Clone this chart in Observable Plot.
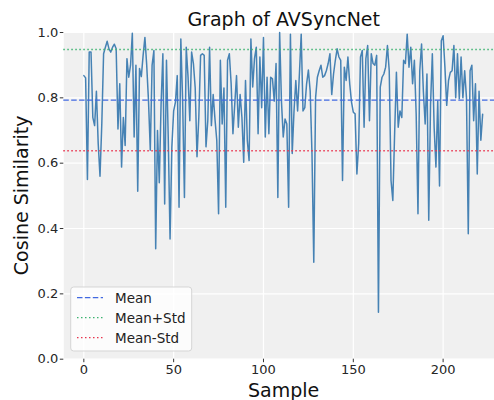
<!DOCTYPE html>
<html><head><meta charset="utf-8">
<script src="https://cdn.jsdelivr.net/npm/d3@7"></script>
<script src="https://cdn.jsdelivr.net/npm/@observablehq/plot@0.6"></script>
<style>
body{margin:0;background:#fff;}
#wrap{position:relative;width:494px;height:400px;overflow:hidden;font-family:"DejaVu Sans",sans-serif;}
#wrap svg{position:absolute;left:0;top:0;}
</style></head><body><div id="wrap"></div><script>
const similarity = [
0.868,0.861,0.55,0.94,0.94,0.74,0.715,0.82,0.66,0.56,
0.72,0.935,0.955,0.973,0.95,0.94,0.955,0.964,0.95,0.705,
0.843,0.588,0.74,0.654,0.92,0.863,0.9,0.998,0.68,0.9,
0.514,0.89,0.865,0.93,0.985,0.9,0.79,0.64,0.9,0.945,
0.338,0.7,0.54,0.78,0.935,0.475,0.915,0.675,0.368,0.65,
0.76,0.787,0.868,0.465,0.98,0.79,0.495,0.955,0.865,0.73,
0.94,0.905,0.83,0.62,0.74,0.93,0.935,0.93,0.65,0.73,
0.955,0.715,0.81,0.735,0.67,0.445,0.915,0.72,0.83,0.465,
0.915,0.935,0.843,0.69,0.78,0.868,0.71,0.81,0.74,0.603,
0.853,0.67,0.608,0.98,0.833,0.92,0.955,0.69,0.925,0.77,
0.985,0.68,0.863,0.69,0.863,0.858,0.79,0.905,0.495,1.0,
0.79,0.68,0.735,0.72,0.465,0.995,0.63,0.76,0.853,0.76,
0.873,0.995,0.76,0.77,0.843,0.885,0.82,0.63,0.297,0.80,
0.863,0.883,0.9,0.863,0.868,0.883,0.905,0.935,0.81,0.873,
0.915,0.95,0.925,0.915,0.547,0.894,0.853,0.925,0.843,0.787,
0.756,0.751,0.567,0.66,0.925,0.945,0.71,0.92,0.96,0.73,
0.935,0.905,0.9,0.93,0.144,0.833,0.863,0.873,0.894,0.96,
0.883,0.547,0.486,0.69,0.878,0.71,0.76,0.74,0.915,0.905,
0.995,0.894,0.955,0.843,0.915,0.75,0.445,0.883,0.965,0.82,
0.72,0.873,0.425,0.78,0.935,0.71,0.588,0.79,0.53,0.975,
0.99,0.894,0.777,0.853,0.878,0.883,0.96,0.80,0.935,0.797,
0.925,0.80,0.883,0.80,0.384,0.883,0.9,0.73,0.843,0.567,
0.82,0.67,0.75
];
const sampleIndex = similarity.map((_, i) => i);
const meanValue = 0.793;
const stdValue = 0.155;
const refNames = ["Mean", "Mean+Std", "Mean-Std"];
const refValues = [meanValue, meanValue + stdValue, meanValue - stdValue];
const refColors = ["#4169e1", "#3cb371", "#e8344e"];
const refDash = ["5.5,2.4", "1.5,2.5", "1.5,2.5"];
const xTicks = [0, 50, 100, 150, 200];
const yTicks = [0, 0.2, 0.4, 0.6, 0.8, 1.0];
const titleText = "Graph of AVSyncNet";
const xLabel = "Sample";
const yLabel = "Cosine Similarity";

const refs = refNames.map((n, i) => ({name: n, value: refValues[i], color: refColors[i], dash: refDash[i]}));

const chart = Plot.plot({
  width: 494, height: 400,
  marginLeft: 63.3, marginRight: 0, marginTop: 32, marginBottom: 41.3,
  style: {fontFamily: "DejaVu Sans", fontSize: "13px", background: "transparent", color: "#262626"},
  x: {domain: [-11.15, 228.6]},
  y: {domain: [0, 1]},
  marks: [
    Plot.frame({fill: "#f0f0f0", stroke: "none"}),
    Plot.gridX(xTicks, {stroke: "#fff", strokeOpacity: 1, strokeWidth: 1.2}),
    Plot.gridY(yTicks, {stroke: "#fff", strokeOpacity: 1, strokeWidth: 1.2}),
    Plot.lineY(similarity, {x: sampleIndex, y: d => d, stroke: "#4682b4", strokeWidth: 1.5}),
    ...refs.map(r => Plot.ruleY([r.value], {stroke: r.color, strokeWidth: 1.3, strokeDasharray: r.dash})),
    Plot.axisX(xTicks, {tickSize: 3.5, tickPadding: 2.5, label: null, fontSize: 13, stroke: "#333"}),
    Plot.axisY(yTicks, {tickSize: 3.5, tickPadding: 2, label: null, tickFormat: ".1f", fontSize: 13, stroke: "#333"})
  ]
});
document.getElementById("wrap").appendChild(chart);

const ov = d3.select("#wrap").append("svg")
  .attr("width", 494).attr("height", 400)
  .style("pointer-events", "none")
  .style("font-family", "DejaVu Sans");
ov.append("text").attr("x", 283.7).attr("y", 26).attr("text-anchor", "middle")
  .attr("font-size", 19).attr("fill", "#111").text(titleText);
ov.append("text").attr("x", 283.7).attr("y", 397).attr("text-anchor", "middle")
  .attr("font-size", 19).attr("fill", "#111").text(xLabel);
ov.append("text").attr("transform", "translate(27.5,195.3) rotate(-90)").attr("text-anchor", "middle")
  .attr("font-size", 19).attr("fill", "#111").text(yLabel);

const lg = ov.append("g");
lg.append("rect").attr("x", 70.7).attr("y", 287).attr("width", 121).attr("height", 64).attr("rx", 3)
  .attr("fill", "#fff").attr("fill-opacity", 0.8).attr("stroke", "#d5d5d5");
refs.forEach((r, i) => {
  const cy = 297.7 + i * 20;
  lg.append("line").attr("x1", 77).attr("x2", 103).attr("y1", cy).attr("y2", cy)
    .attr("stroke", r.color).attr("stroke-width", 1.3).attr("stroke-dasharray", r.dash);
  lg.append("text").attr("x", 115).attr("y", cy + 5.4).attr("font-size", 13.5).attr("fill", "#222").text(r.name);
});
</script></body></html>
